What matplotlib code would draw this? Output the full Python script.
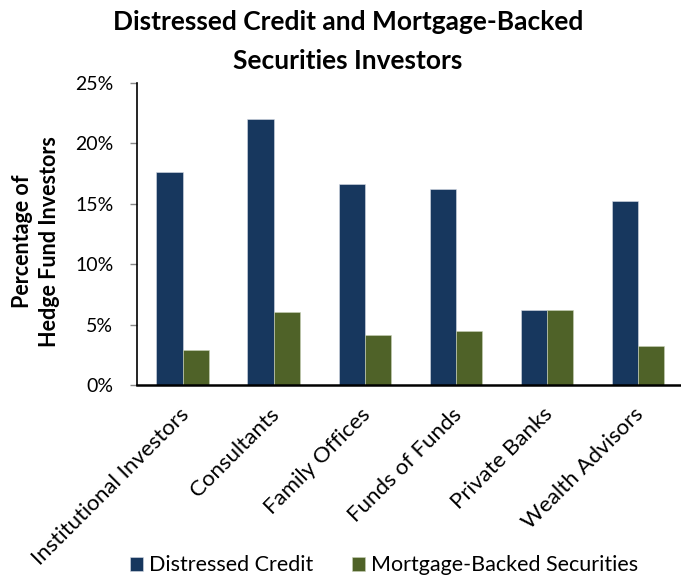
import numpy as np
import matplotlib.pyplot as plt
import matplotlib.transforms as mtransforms
from matplotlib.ticker import PercentFormatter

plt.rcParams['font.family'] = ['Lato', 'DejaVu Sans']

categories = ["Institutional Investors", "Consultants", "Family Offices",
              "Funds of Funds", "Private Banks", "Wealth Advisors"]
distressed_credit = [17.6, 22.0, 16.6, 16.2, 6.2, 15.2]
mortgage_backed = [2.9, 6.0, 4.1, 4.5, 6.2, 3.2]
series_names = ["Distressed Credit", "Mortgage-Backed Securities"]

NAVY = "#17375E"
OLIVE = "#4F6228"

fig = plt.figure(figsize=(6.81, 5.77), dpi=100)
ax = fig.add_axes([0.2012, 0.3328, 0.8018, 0.524])

x = np.arange(len(categories))
w = 0.286
ax.bar(x - w / 2, distressed_credit, w, color=NAVY, edgecolor="#d8dde6", linewidth=0.4,
       label=series_names[0])
ax.bar(x + w / 2, mortgage_backed, w, color=OLIVE, edgecolor="#c9d2b8", linewidth=0.4,
       label=series_names[1])

ax.set_xlim(-0.5, len(categories) - 0.5)
ax.set_ylim(0, 25)
ax.set_yticks(range(0, 26, 5))
ax.yaxis.set_major_formatter(PercentFormatter(decimals=0))
ax.tick_params(axis="y", labelsize=14, length=5, width=1.0, direction="out", pad=12,
               color="#888888")
ax.tick_params(axis="x", length=0, labelsize=16, pad=14)
ax.set_xticks(x)
ax.set_xticklabels(categories, rotation=45, ha="right", va="top", rotation_mode="anchor")
shift = mtransforms.ScaledTranslation(-4 / 100, 0, fig.dpi_scale_trans)
for lbl in ax.get_xticklabels():
    lbl.set_transform(lbl.get_transform() + shift)

for side in ("top", "right"):
    ax.spines[side].set_visible(False)
ax.spines["left"].set_linewidth(1.2)
ax.spines["bottom"].set_linewidth(1.8)

ax.set_ylabel("Percentage of\nHedge Fund Investors", fontsize=15.5, fontweight="bold",
              linespacing=1.35)
ax.yaxis.set_label_coords(-0.141, 0.475)

fig.text(0.511, 0.982, "Distressed Credit and Mortgage-Backed\nSecurities Investors",
         ha="center", va="top", fontsize=19, fontweight="bold", linespacing=1.75)

fig.legend(loc="center", bbox_to_anchor=(0.564, 0.02), ncol=2, frameon=False,
           fontsize=15.5, handlelength=0.6, handleheight=0.6, handletextpad=0.3,
           columnspacing=1.8, borderpad=0)

fig.savefig("out.png", dpi=100)
